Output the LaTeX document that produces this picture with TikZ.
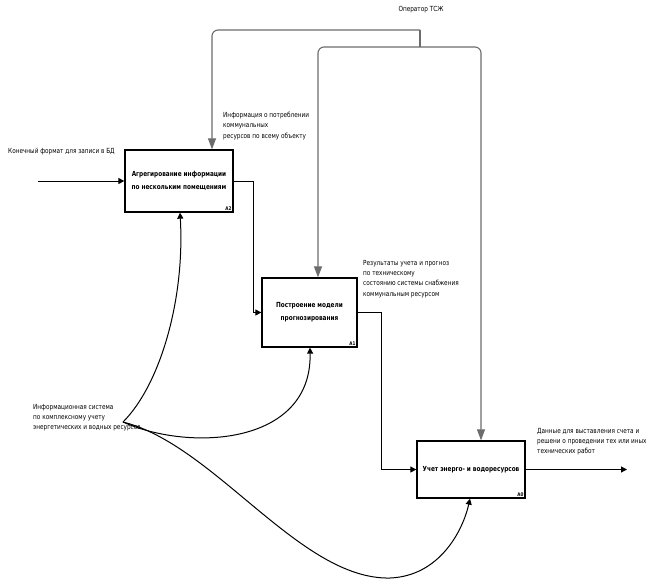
\documentclass[tikz,border=0pt]{standalone}
\usepackage{fontspec}
\setmainfont{DejaVu Sans}[FakeStretch=0.82]
\usetikzlibrary{arrows.meta}
\begin{document}
\begin{tikzpicture}[x=1pt,y=-1pt,
  box/.style={draw,line width=1.3pt,inner sep=0pt,align=center,font=\bfseries\fontsize{7}{13}\selectfont},
  boxid/.style={font=\bfseries\fontsize{5}{6}\selectfont,inner sep=0pt,anchor=south east},
  lbl/.style={inner sep=0pt,align=left,font=\fontsize{7}{10.3}\selectfont},
  arr/.style={line width=1pt,-{Triangle[length=6pt,width=6pt]}},
  garr/.style={draw=gray!85!black,line width=1.1pt,rounded corners=6pt,-{Triangle[length=11pt,width=8pt]}},
  gline/.style={draw=gray!85!black,line width=1.1pt}]
\useasboundingbox (0,0) rectangle (652,587);
% boxes
\node[box,minimum width=108pt,minimum height=62pt] (a2) at (179,181) {Агрегирование информации\\по нескольким помещениям};
\node[box,minimum width=95pt,minimum height=69pt] (a1) at (309.5,312.5) {Построение модели\\прогнозирования};
\node[box,minimum width=108pt,minimum height=57pt] (a0) at (471,469.5) {Учет энерго- и водоресурсов};
\node[boxid] (a2id) at ([shift={(-2pt,2pt)}]a2.south east) {A2};
\node[boxid] (a1id) at ([shift={(-2pt,2pt)}]a1.south east) {A1};
\node[boxid] (a0id) at ([shift={(-2pt,2pt)}]a0.south east) {A0};
% labels
\node[lbl,anchor=west] (linp) at (8,152) {Конечный формат для записи в БД};
\node[lbl,anchor=center] (lop) at (421,10) {Оператор ТСЖ};
\node[lbl,anchor=north west] (linf) at (223,112) {Информация о потреблении\\коммунальных\\ресурсов по всему объекту};
\node[lbl,anchor=north west] (lres) at (363,260) {Результаты учета и прогноз\\по техническому\\состоянию системы снабжения\\коммунальным ресурсом};
\node[lbl,anchor=north west] (ldat) at (537,428) {Данные для выставления счета и\\решени о проведении тех или иных\\технических работ};
\node[lbl,anchor=north west] (lis) at (33,404) {Информационная система\\по комплексному учету\\энергетических и водных ресурсов};
% coordinates
\coordinate (in) at (38,181);
\coordinate (out) at (627,469.5);
\coordinate (j1) at (420,30);
\coordinate (j2) at (420,47);
\coordinate (ms) at (123,422);
% control (gray)
\draw[gline] (j1) -- (j2);
\draw[garr] (j1) -| ([xshift=33pt]a2.north);
\draw[garr] (j2) -| ([xshift=8.5pt]a1.north);
\draw[garr] (j2) -| ([xshift=10pt]a0.north);
% flow
\draw[arr] (in) -- (a2.west);
\draw[arr] (a2.east) -- ++(20,0) |- (a1.west);
\draw[arr] (a1.east) -- ++(24,0) |- (a0.west);
\draw[arr] (a0.east) -- (out);
% mechanisms
\draw[arr] (ms) .. controls (160,385) and (185,300) .. ([xshift=1pt]a2.south);
\draw[arr] (ms) .. controls (190,452) and (312,445) .. ([xshift=0.5pt]a1.south);
\draw[arr] (ms) .. controls (215,445) and (300,580) .. (390,578) .. controls (440,576) and (463,530) .. ([xshift=-1pt]a0.south);
\end{tikzpicture}
\end{document}
